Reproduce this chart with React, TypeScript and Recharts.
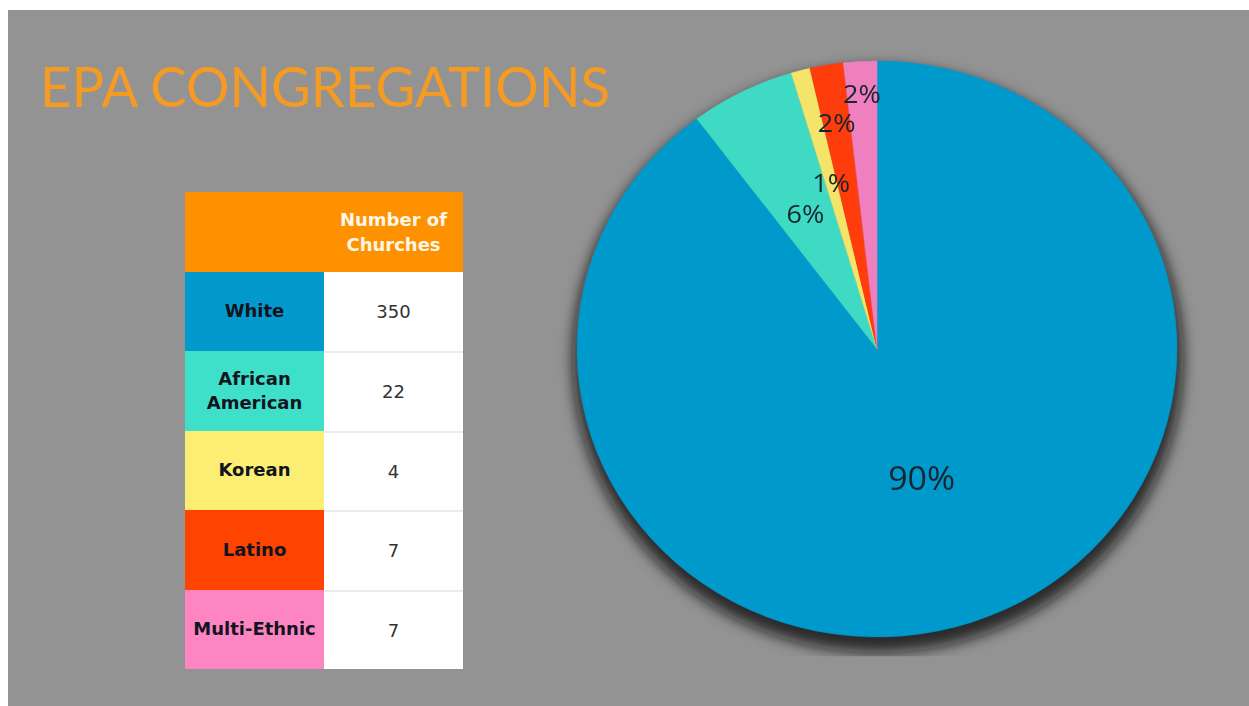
import React from 'react';
import { PieChart, Pie, Cell } from 'recharts';

const titleText = 'EPA CONGREGATIONS';
const headerLines = ['Number of', 'Churches'];
const categories = ['White', 'African American', 'Korean', 'Latino', 'Multi-Ethnic'];
const churchCounts = [350, 22, 4, 7, 7];
const tableColors = ['#0399cc', '#3fe0c9', '#fcee73', '#ff4300', '#fd85c2'];
const pieColors = ['#0099cc', '#3fdac3', '#f4e56a', '#ff3c0c', '#ef80bf'];
const labelRadiusRatios = [0.47, 0.53, 0.6, 0.8, 0.89];
const labelFontSizes = [34, 27, 27, 27, 27];

const pieData = categories.map((name, i) => ({ name, value: churchCounts[i] }));
const shadowData = [{ name: 'total', value: churchCounts.reduce((a, b) => a + b, 0) }];

const RADIAN = Math.PI / 180;

const renderLabel = (props: any) => {
  const { cx, cy, midAngle, outerRadius, percent, index } = props;
  const r = outerRadius * labelRadiusRatios[index];
  const x = cx + r * Math.cos(-midAngle * RADIAN);
  const y = cy + r * Math.sin(-midAngle * RADIAN);
  return (
    <text
      x={x}
      y={y}
      fill="#18242f"
      textAnchor="middle"
      dominantBaseline="central"
      fontSize={labelFontSizes[index]}
      fontFamily="'Open Sans', sans-serif"
    >
      {`${Math.round(percent * 100)}%`}
    </text>
  );
};

const ROW_H = 79.5;

export default function App() {
  return (
    <div
      style={{
        position: 'absolute',
        left: 8,
        top: 10,
        width: 1241,
        height: 696,
        background: '#939393',
        overflow: 'hidden',
      }}
    >
      <svg width={640} height={130} style={{ position: 'absolute', left: 0, top: 0 }}>
        <text
          x={32}
          y={97}
          fill="#f59a22"
          fontSize={57}
          fontFamily="Lato, 'Open Sans', sans-serif"
          textLength={570}
          lengthAdjust="spacingAndGlyphs"
        >
          {titleText}
        </text>
      </svg>

      <div
        style={{
          position: 'absolute',
          left: 177,
          top: 182,
          width: 278,
          fontFamily: "'DejaVu Sans', Verdana, sans-serif",
          fontSize: 18,
        }}
      >
        <div style={{ display: 'flex', height: ROW_H, background: '#fe9100' }}>
          <div style={{ width: 139 }} />
          <div
            style={{
              width: 139,
              display: 'flex',
              flexDirection: 'column',
              alignItems: 'center',
              justifyContent: 'center',
              color: '#fff6ea',
              fontWeight: 'bold',
              lineHeight: '25px',
            }}
          >
            {headerLines.map((l) => (
              <div key={l}>{l}</div>
            ))}
          </div>
        </div>
        {categories.map((c, i) => (
          <div key={c} style={{ display: 'flex', height: ROW_H }}>
            <div
              style={{
                width: 139,
                background: tableColors[i],
                display: 'flex',
                alignItems: 'center',
                justifyContent: 'center',
                textAlign: 'center',
                fontWeight: 'bold',
                color: '#12141e',
                lineHeight: '24px',
              }}
            >
              {c}
            </div>
            <div
              style={{
                width: 139,
                background: '#ffffff',
                display: 'flex',
                alignItems: 'center',
                justifyContent: 'center',
                color: '#333',
                boxSizing: 'border-box',
                borderTop: i > 0 ? '2px solid #ebebeb' : 'none',
              }}
            >
              {churchCounts[i]}
            </div>
          </div>
        ))}
      </div>

      <div
        style={{
          position: 'absolute',
          left: 549,
          top: 19,
          width: 640,
          height: 640,
          transform: 'scaleY(0.96)',
          transformOrigin: '50% 50%',
        }}
      >
        <PieChart width={640} height={640} margin={{ top: 0, right: 0, bottom: 0, left: 0 }}>
          <defs>
            <filter id="pieShadow" x="-20%" y="-20%" width="140%" height="140%">
              <feGaussianBlur stdDeviation="7" />
            </filter>
          </defs>
          <Pie
            data={shadowData}
            dataKey="value"
            cx={321}
            cy={331}
            outerRadius={305}
            startAngle={90}
            endAngle={-270}
            isAnimationActive={false}
            stroke="none"
          >
            <Cell fill="#141414" fillOpacity={0.8} filter="url(#pieShadow)" />
          </Pie>
          <Pie
            data={pieData}
            dataKey="value"
            cx={320}
            cy={320}
            outerRadius={300}
            startAngle={90}
            endAngle={-270}
            isAnimationActive={false}
            labelLine={false}
            label={renderLabel}
          >
            {pieData.map((d, i) => (
              <Cell key={d.name} fill={pieColors[i]} stroke={pieColors[i]} strokeWidth={0.5} />
            ))}
          </Pie>
        </PieChart>
      </div>
    </div>
  );
}
